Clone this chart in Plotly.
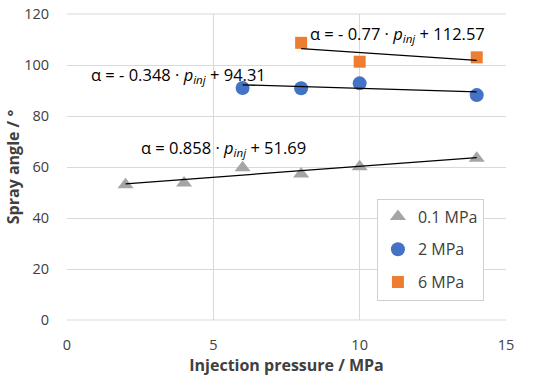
import plotly.graph_objects as go

# Data
x_01 = [2, 4, 6, 8, 10, 14]
y_01 = [53.0, 53.7, 59.7, 57.3, 60.1, 63.4]
x_2 = [6, 8, 10, 14]
y_2 = [91.0, 90.9, 92.8, 88.2]
x_6 = [8, 10, 14]
y_6 = [108.7, 101.3, 103.0]

series_names = ["0.1 MPa", "2 MPa", "6 MPa"]
# trendline coefficients (slope, intercept) as printed on the chart
slopes = [0.858, -0.348, -0.77]
intercepts = [51.69, 94.31, 112.57]
eq_labels = [
    "α = 0.858 · <i>p</i><sub><i>inj</i></sub> + 51.69",
    "α = - 0.348 · <i>p</i><sub><i>inj</i></sub> + 94.31",
    "α = - 0.77 · <i>p</i><sub><i>inj</i></sub> + 112.57",
]

FONT = "Open Sans, Liberation Sans, sans-serif"
fig = go.Figure()

xs = [x_01, x_2, x_6]
ys = [y_01, y_2, y_6]
colors = ["#a5a5a5", "#4472c4", "#ed7d31"]
symbols = ["triangle-up", "circle", "square"]
sizes = [14, 14, 12]

for i in range(3):
    fig.add_trace(go.Scatter(
        x=xs[i], y=ys[i], mode="markers", name=series_names[i],
        legendgroup=series_names[i],
        marker=dict(symbol=symbols[i], color=colors[i], size=sizes[i], line=dict(width=0)),
    ))

for i in range(3):
    x0, x1 = min(xs[i]), max(xs[i])
    fig.add_trace(go.Scatter(
        x=[x0, x1], y=[slopes[i] * x0 + intercepts[i], slopes[i] * x1 + intercepts[i]],
        mode="lines", line=dict(color="black", width=1.3), showlegend=False, hoverinfo="skip",
    ))

# equation labels
ann_pos = [(5.35, 67.6), (3.81, 95.9), (11.29, 112.0)]
for (ax, ay), t in zip(ann_pos, eq_labels):
    fig.add_annotation(x=ax, y=ay, text=t, showarrow=False, xanchor="center", yanchor="middle",
                       font=dict(family=FONT, size=16.5, color="#000"))

fig.update_layout(
    width=550, height=381,
    margin=dict(l=67, r=44, t=14, b=61),
    paper_bgcolor="white", plot_bgcolor="white",
    font=dict(family=FONT, size=14, color="#404040"),
    showlegend=True,
    legend=dict(x=0.706, y=0.397, xanchor="left", yanchor="top",
                bordercolor="#d0d0d0", borderwidth=1, bgcolor="white",
                font=dict(family=FONT, size=16, color="#404040"),
                traceorder="grouped", tracegroupgap=9,
                itemwidth=30),
    xaxis=dict(range=[0, 15], dtick=5, showgrid=True, gridcolor="#d9d9d9", gridwidth=1,
               zeroline=False, showline=False, ticks="outside", ticklen=12,
               tickcolor="rgba(0,0,0,0)", automargin=False,
               tickfont=dict(family=FONT, size=14.5, color="#404040"),
               title=dict(text="<b>Injection pressure / MPa</b>", standoff=4,
                          font=dict(family=FONT, size=16, color="#404040"))),
    yaxis=dict(range=[0, 120], dtick=20, showgrid=True, gridcolor="#d9d9d9", gridwidth=1,
               zeroline=False, showline=False, ticks="outside", ticklen=14,
               tickcolor="rgba(0,0,0,0)", automargin=False,
               tickfont=dict(family=FONT, size=14.5, color="#404040"),
               title=dict(text="<b>Spray angle / °</b>", standoff=0,
                          font=dict(family=FONT, size=16, color="#404040"))),
)
# grey frame lines at bottom and top like the grid
for yy in (0, 1):
    fig.add_shape(type="line", xref="paper", yref="paper", x0=0, x1=1, y0=yy, y1=yy,
                  line=dict(color="#d9d9d9", width=1), layer="below")

# remove the default 8px page margin so the figure sits at the window's corner
fig.write_html("out.html", config={"displayModeBar": False},
               post_script="document.body.style.margin='0px';")
